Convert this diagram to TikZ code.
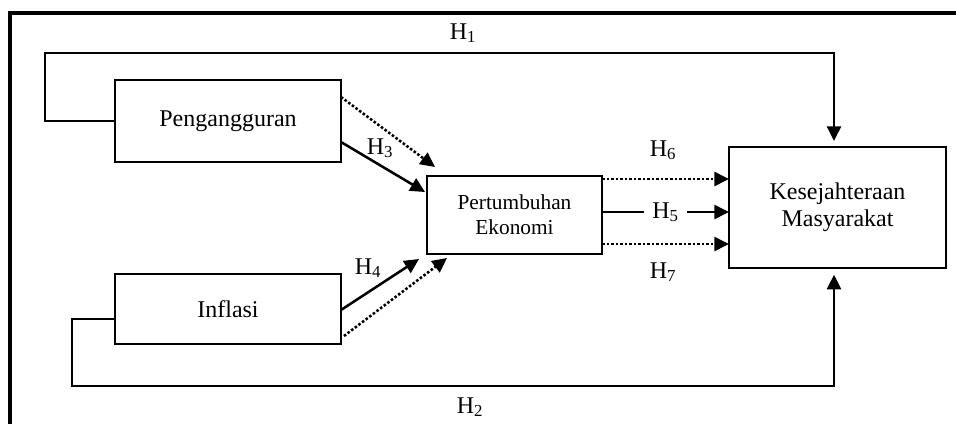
\documentclass[tikz,border=0pt]{standalone}
\usepackage{fontspec}
\setmainfont{Liberation Serif}
\usetikzlibrary{arrows.meta}

\tikzset{every picture/.style={line width=0.75pt}}
\tikzset{
  varbox/.style={draw, line width=2pt, inner sep=0pt, outer sep=0pt, align=center, font=\fontsize{18}{20}\selectfont},
  conn/.style={line width=1.9pt, -{Triangle[length=11pt,width=10.5pt]}},
  dotconn/.style={conn, dash pattern=on 1.9pt off 1.5pt},
  hlabel/.style={inner sep=1pt, font=\fontsize{18}{20}\selectfont}
}

\begin{document}
\begin{tikzpicture}[x=0.75pt,y=0.75pt,yscale=-1,xscale=1]
    \useasboundingbox (0,0) rectangle (956,424);

    %Shape: Frame (top and left edges)
    \draw [line width=3pt] (10,424) -- (10,13) -- (956,13) ;

    %Shape: Rectangle [Pengangguran]
    \node [varbox, minimum width=169.5pt, minimum height=61.5pt] (peng) at (228,121) {Pengangguran};
    %Shape: Rectangle [Inflasi]
    \node [varbox, minimum width=169.5pt, minimum height=52.5pt] (infl) at (228,309) {Inflasi};
    %Shape: Rectangle [Pertumbuhan Ekonomi]
    \node [varbox, minimum width=131.25pt, minimum height=58.5pt, font=\fontsize{16}{18.75}\selectfont] (pert) at (514.5,215) {Pertumbuhan\\Ekonomi};
    %Shape: Rectangle [Kesejahteraan Masyarakat]
    \node [varbox, minimum width=162.75pt, minimum height=90.75pt] (kes) at (837.5,207.5) {Kesejahteraan\\Masyarakat};

    %Corners of the long paths
    \coordinate (h1a) at (45,53) ;
    \coordinate (h1b) at (834,53) ;
    \coordinate (h2a) at (72,386) ;
    \coordinate (h2b) at (834,386) ;

    %Straight Lines [H1]
    \draw [conn, shorten >=4.5pt] (peng.west) -- (peng.west -| h1a) -- (h1a) -- (h1b) -- (h1b |- kes.north) ;
    %Straight Lines [H2]
    \draw [conn, shorten >=5pt] ([shift={(0,10)}]infl.west) -- ([shift={(0,10)}]infl.west -| h2a) -- (h2a) -- (h2b) -- (h2b |- kes.south) ;

    %Straight Lines [H3]
    \draw [conn] ([shift={(0,21)}]peng.east) -- ([shift={(-2,16)}]pert.north west) ;
    %Straight Lines [Pengangguran dotted]
    \draw [dotconn] ([shift={(0,17)}]peng.north east) -- ([shift={(8,-9)}]pert.north west) ;
    %Straight Lines [H4]
    \draw [conn] ([shift={(0,36)}]infl.north east) -- ([shift={(-8,5)}]pert.south west) ;
    %Straight Lines [Inflasi dotted]
    \draw [dotconn] ([shift={(3,-8)}]infl.south east) -- ([shift={(20,4)}]pert.south west) ;

    %Straight Lines [H6]
    \draw [dotconn] ([shift={(0,3)}]pert.north east) -- ([shift={(0,3)}]pert.north east -| kes.west) ;
    %Straight Lines [H5]
    \draw [conn] ([shift={(0,-3)}]pert.east) -- ([shift={(0,-3)}]pert.east -| kes.west)
        node [pos=0.5, hlabel, fill=white, inner xsep=6pt] (h5) {H\textsubscript{5}} ;
    %Straight Lines [H7]
    \draw [dotconn] ([shift={(0,-10)}]pert.south east) -- ([shift={(0,-10)}]pert.south east -| kes.west) ;

    % Text Node
    \node [hlabel] (h1) at (463,33) {H\textsubscript{1}};
    % Text Node
    \node [hlabel] (h2) at (470,407) {H\textsubscript{2}};
    % Text Node
    \node [hlabel] (h3) at (380,148) {H\textsubscript{3}};
    % Text Node
    \node [hlabel] (h4) at (368,268) {H\textsubscript{4}};
    % Text Node
    \node [hlabel] (h6) at (663,150) {H\textsubscript{6}};
    % Text Node
    \node [hlabel] (h7) at (663,272) {H\textsubscript{7}};

\end{tikzpicture}
\end{document}
